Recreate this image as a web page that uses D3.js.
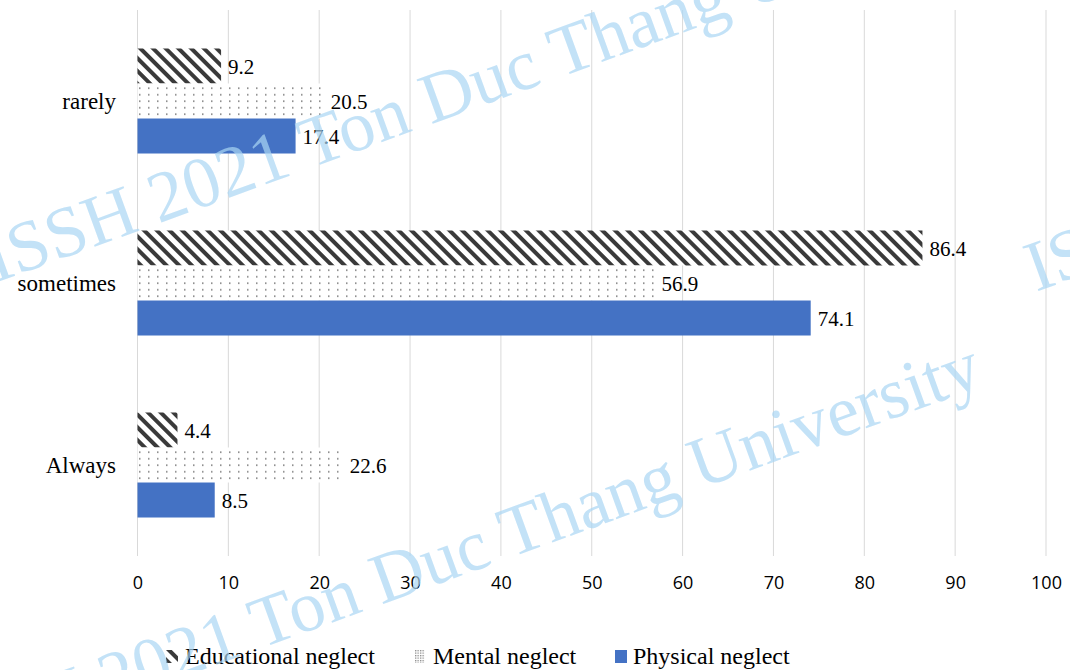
<!DOCTYPE html>
<html>
<head>
<meta charset="utf-8">
<script src="https://cdn.jsdelivr.net/npm/d3@7"></script>
<style>
  body { margin: 0; background: #fff; }
  svg { display: block; }
</style>
</head>
<body>
<div id="chart"></div>
<script>
// Data
const categories = ["rarely", "sometimes", "Always"];
const seriesNames = ["Educational neglect", "Mental neglect", "Physical neglect"];
const educational = [9.2, 86.4, 4.4];
const mental = [20.5, 56.9, 22.6];
const physical = [17.4, 74.1, 8.5];
const xTicks = [0, 10, 20, 30, 40, 50, 60, 70, 80, 90, 100];

const seriesValues = [educational, mental, physical];

const W = 1070, H = 670;
const SERIF = "'Liberation Serif', 'Times New Roman', serif";
const SANS = "'Open Sans', sans-serif";

const svg = d3.select("#chart").append("svg")
    .attr("width", W)
    .attr("height", H);

// Patterns
const defs = svg.append("defs");

const stripes = defs.append("pattern")
    .attr("id", "stripes")
    .attr("patternUnits", "userSpaceOnUse")
    .attr("width", 9)
    .attr("height", 9)
    .attr("patternTransform", "rotate(-45)");
stripes.append("rect").attr("width", 9).attr("height", 9).attr("fill", "#fff");
stripes.append("rect").attr("width", 4).attr("height", 9).attr("fill", "#3a3a3a");

const dots = defs.append("pattern")
    .attr("id", "dots")
    .attr("patternUnits", "userSpaceOnUse")
    .attr("width", 9)
    .attr("height", 6.5);
dots.append("rect").attr("width", 9).attr("height", 6.5).attr("fill", "#fff");
dots.append("rect").attr("x", 4).attr("y", 3).attr("width", 1.5).attr("height", 1.5).attr("fill", "#7a7a7a");

// denser dots for the small legend key
const dotsKey = defs.append("pattern")
    .attr("id", "dotsKey")
    .attr("patternUnits", "userSpaceOnUse")
    .attr("width", 2.5)
    .attr("height", 2.5);
dotsKey.append("rect").attr("width", 2.5).attr("height", 2.5).attr("fill", "#fff");
dotsKey.append("rect").attr("width", 1.3).attr("height", 1.3).attr("fill", "#888");

const fills = ["url(#stripes)", "url(#dots)", "#4472C4"];
const keyFills = ["url(#stripes)", "url(#dotsKey)", "#4472C4"];

// Scales
const x = d3.scaleLinear().domain([0, 100]).range([137.5, 1046]);

const y = d3.scaleBand()
    .domain(categories)
    .range([10, 556])
    .paddingInner(0.423)
    .paddingOuter(0.2115);

const ySub = d3.scaleBand()
    .domain(seriesNames)
    .range([0, y.bandwidth()]);

// Gridlines
svg.append("g")
    .selectAll("line")
    .data(xTicks)
    .enter().append("line")
    .attr("x1", d => x(d))
    .attr("x2", d => x(d))
    .attr("y1", 10)
    .attr("y2", 556)
    .attr("stroke", "#d9d9d9")
    .attr("stroke-width", 1);

// X axis labels
const xAxis = svg.append("g")
    .attr("transform", "translate(0,576)")
    .call(d3.axisBottom(x).tickValues(xTicks).tickSize(0).tickPadding(0));
xAxis.select(".domain").remove();
xAxis.attr("font-family", SANS).attr("font-size", 18);
xAxis.selectAll("text").attr("fill", "#000");

// Category labels
svg.append("g")
    .selectAll("text")
    .data(categories)
    .enter().append("text")
    .attr("font-family", SERIF)
    .attr("font-size", 23)
    .attr("x", 116)
    .attr("y", d => y(d) + y.bandwidth() / 2)
    .attr("dy", "0.35em")
    .attr("text-anchor", "end")
    .text(d => d);

// Bars
const rows = [];
categories.forEach((c, i) => {
    seriesNames.forEach((s, j) => {
        rows.push({cat: c, series: s, idx: j, value: seriesValues[j][i]});
    });
});

const barGroup = svg.append("g");
barGroup.selectAll("rect")
    .data(rows)
    .enter().append("rect")
    .attr("x", x(0))
    .attr("y", d => y(d.cat) + ySub(d.series))
    .attr("width", d => x(d.value) - x(0))
    .attr("height", ySub.bandwidth())
    .attr("fill", d => fills[d.idx]);

// Value labels
barGroup.selectAll("text")
    .data(rows)
    .enter().append("text")
    .attr("font-family", SERIF)
    .attr("font-size", 21)
    .attr("x", d => x(d.value) + 7)
    .attr("y", d => y(d.cat) + ySub(d.series) + ySub.bandwidth() / 2)
    .attr("dy", "0.38em")
    .text(d => d.value.toFixed(1));

// Legend
const legendX = [166, 415, 615];
const legend = svg.append("g")
    .selectAll("g")
    .data(seriesNames)
    .enter().append("g")
    .attr("transform", (d, i) => `translate(${legendX[i]},650)`);

legend.append("rect")
    .attr("width", (d, i) => i === 1 ? 10 : 12)
    .attr("height", 13)
    .attr("fill", (d, i) => keyFills[i]);

legend.append("text")
    .attr("font-family", SERIF)
    .attr("font-size", 24)
    .attr("x", (d, i) => i === 0 ? 19 : 18)
    .attr("y", 14)
    .text(d => d);

// Watermark
const mark = "ISSH 2021 Ton Duc Thang University";
const wm = svg.append("g")
    .attr("font-family", SERIF)
    .attr("font-size", 72)
    .attr("fill", "#a9d6f4")
    .attr("fill-opacity", 0.7);

wm.append("text")
    .attr("transform", "translate(-5,283) rotate(-20)")
    .text(mark);

wm.append("text")
    .attr("text-anchor", "end")
    .attr("transform", "translate(985,385) rotate(-20)")
    .text(mark);

wm.append("text")
    .attr("transform", "translate(1036,292) rotate(-20)")
    .text(mark);
</script>
</body>
</html>
